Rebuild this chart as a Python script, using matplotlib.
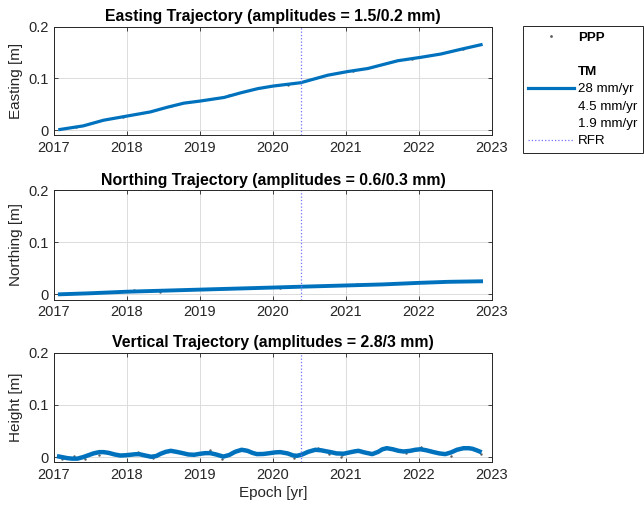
import numpy as np
import matplotlib
matplotlib.use("Agg")
import matplotlib.pyplot as plt
from matplotlib.lines import Line2D

plt.rcParams['font.family'] = ['Liberation Sans', 'DejaVu Sans']

# trajectory model (TM) curves
east_t = [2017.08, 2017.40, 2017.68, 2018.00, 2018.32, 2018.55, 2018.78, 2019.00,
          2019.33, 2019.56, 2019.79, 2020.00, 2020.38, 2020.75, 2021.02, 2021.30,
          2021.71, 2022.02, 2022.30, 2022.57, 2022.85]
east_v = [0.001, 0.008, 0.019, 0.027, 0.035, 0.044, 0.052, 0.056,
          0.063, 0.072, 0.080, 0.085, 0.0915, 0.106, 0.113, 0.119,
          0.134, 0.1405, 0.147, 0.156, 0.165]

north_t = [2017.08, 2017.50, 2018.00, 2018.50, 2019.00, 2019.50, 2020.00, 2020.38,
           2021.00, 2021.50, 2022.00, 2022.40, 2022.85]
north_v = [0.000, 0.002, 0.005, 0.007, 0.009, 0.011, 0.013, 0.0146,
           0.017, 0.019, 0.022, 0.024, 0.025]

up_t = [2017.07, 2017.18, 2017.25, 2017.32, 2017.40, 2017.46, 2017.54, 2017.62,
        2017.68, 2017.75, 2017.83, 2017.91, 2017.98, 2018.05, 2018.12, 2018.17,
        2018.25, 2018.33, 2018.40, 2018.46, 2018.53, 2018.60, 2018.68, 2018.76,
        2018.84, 2018.92, 2019.00, 2019.07, 2019.14, 2019.22, 2019.32, 2019.40,
        2019.48, 2019.57, 2019.65, 2019.72, 2019.78, 2019.87, 2019.96, 2020.03,
        2020.10, 2020.20, 2020.28, 2020.33, 2020.40, 2020.48, 2020.58, 2020.66,
        2020.73, 2020.79, 2020.87, 2020.97, 2021.05, 2021.12, 2021.17, 2021.25,
        2021.36, 2021.44, 2021.50, 2021.56, 2021.64, 2021.72, 2021.79, 2021.88,
        2021.95, 2022.02, 2022.10, 2022.20, 2022.28, 2022.36, 2022.44, 2022.52,
        2022.61, 2022.68, 2022.73, 2022.79, 2022.83]
up_v = [0.001, -0.002, -0.003, -0.003, 0.000, 0.003, 0.007, 0.0095,
        0.0095, 0.008, 0.005, 0.003, 0.0035, 0.0045, 0.0055, 0.0055,
        0.003, 0.0006, 0.002, 0.0063, 0.010, 0.012, 0.010, 0.0076,
        0.005, 0.0044, 0.0063, 0.0075, 0.0076, 0.005, 0.001, 0.004,
        0.010, 0.014, 0.012, 0.008, 0.0057, 0.006, 0.0076, 0.009,
        0.0095, 0.007, 0.003, 0.0025, 0.005, 0.010, 0.014, 0.013,
        0.011, 0.0095, 0.007, 0.0065, 0.009, 0.011, 0.012, 0.009,
        0.0057, 0.010, 0.015, 0.017, 0.015, 0.012, 0.0107, 0.012,
        0.014, 0.015, 0.013, 0.0095, 0.007, 0.0057, 0.009, 0.014,
        0.017, 0.017, 0.016, 0.013, 0.0107]

# a few PPP epochs that stick out of the model line
ppp_e_t = [2017.30, 2017.95, 2018.60, 2019.40, 2020.20, 2021.10, 2021.90, 2022.60]
ppp_e_v = [0.006, 0.025, 0.046, 0.067, 0.087, 0.114, 0.138, 0.157]
ppp_n_t = [2017.55, 2018.10, 2018.15, 2018.45, 2019.60, 2020.10, 2021.15, 2021.60, 2022.40]
ppp_n_v = [0.003, 0.008, 0.006, 0.004, 0.012, 0.013, 0.019, 0.020, 0.025]
ppp_u_t = [2017.11, 2017.27, 2017.43, 2017.61, 2017.75, 2017.80, 2017.86, 2018.15,
           2018.36, 2019.14, 2019.30, 2019.44, 2019.60, 2020.29, 2020.61, 2020.77,
           2020.93, 2020.95, 2021.18, 2021.55, 2021.82, 2022.03, 2022.35, 2022.44,
           2022.67, 2022.85]
ppp_u_v = [-0.004, 0.0025, -0.004, 0.0044, 0.009, 0.008, 0.0044, 0.009,
           -0.002, 0.014, -0.004, 0.009, 0.015, -0.002, 0.017, 0.006,
           0.000, 0.004, 0.0126, 0.019, 0.0076, 0.019, 0.006, 0.0025,
           0.017, 0.006]

rfr = 2020.38
titles = ["Easting Trajectory (amplitudes = 1.5/0.2 mm)",
          "Northing Trajectory (amplitudes = 0.6/0.3 mm)",
          "Vertical Trajectory (amplitudes = 2.8/3 mm)"]
ylabels = ["Easting [m]", "Northing [m]", "Height [m]"]
rates = ["28 mm/yr", "4.5 mm/yr", "1.9 mm/yr"]

tm_col = '#0072BD'
rfr_col = '#7070ff'
ax_col = '#262626'

fig = plt.figure(figsize=(6.44, 5.09), dpi=100)
W, H = 644.0, 509.0
# axes boxes in pixels: (top, bottom)
boxes = [(26.6, 135.2), (190.3, 299.5), (352.7, 462.3)]
series = [(east_t, east_v, ppp_e_t, ppp_e_v),
          (north_t, north_v, ppp_n_t, ppp_n_v),
          (up_t, up_v, ppp_u_t, ppp_u_v)]
line_w = [2.3, 2.8, 3.2]  # PPP cloud makes the lower two look thicker

for i in range(3):
    top, bot = boxes[i]
    ax = fig.add_axes([54/W, 1-bot/H, (492-54)/W, (bot-top)/H])
    tt, vv, pt, pv = series[i]
    ax.plot(pt, pv, '.', color='#606060', ms=1.5)
    ax.plot(tt, vv, '-', color=tm_col, lw=line_w[i], solid_joinstyle='round')
    ax.axvline(rfr, color=rfr_col, ls=':', lw=0.9)
    ax.set_xlim(2017, 2023)
    ax.set_ylim(-0.01, 0.2)
    ax.set_xticks(range(2017, 2024))
    ax.set_yticks([0, 0.1, 0.2])
    ax.set_yticklabels(['0', '0.1', '0.2'])
    ax.grid(True, color='#dcdcdc', lw=0.7)
    ax.set_axisbelow(True)
    ax.tick_params(direction='in', top=True, right=True, length=3,
                   labelsize=10.5, colors=ax_col, width=0.6, pad=4)
    for s in ax.spines.values():
        s.set_color(ax_col)
        s.set_linewidth(0.7)
    ax.set_title(titles[i], fontsize=11.4, fontweight='bold', pad=4)
    ax.set_ylabel(ylabels[i], fontsize=11, color=ax_col, labelpad=4)
    if i == 2:
        ax.set_xlabel("Epoch [yr]", fontsize=11, color=ax_col, labelpad=3)

# legend
blank = Line2D([], [], ls='none')
handles = [Line2D([], [], ls='none', marker='.', color='#606060', ms=2),
           blank, blank,
           Line2D([], [], color=tm_col, lw=2.3),
           blank, blank,
           Line2D([], [], color=rfr_col, ls=':', lw=0.9)]
labels = ["PPP", " ", "TM", rates[0], rates[1], rates[2], "RFR"]
fs = 9.6
leg = fig.legend(handles, labels, loc='upper left',
                 bbox_to_anchor=(523/W, 1-26/H), bbox_transform=fig.transFigure,
                 borderaxespad=0, fontsize=fs, handlelength=3.4, handletextpad=0.35,
                 labelspacing=0.37, borderpad=0.4, fancybox=False, framealpha=1)
leg.get_frame().set_edgecolor(ax_col)
leg.get_frame().set_linewidth(0.7)
for k, txt in enumerate(leg.get_texts()):
    if k in (0, 2):
        txt.set_fontweight('bold')

fig.savefig("out.png", dpi=100)
